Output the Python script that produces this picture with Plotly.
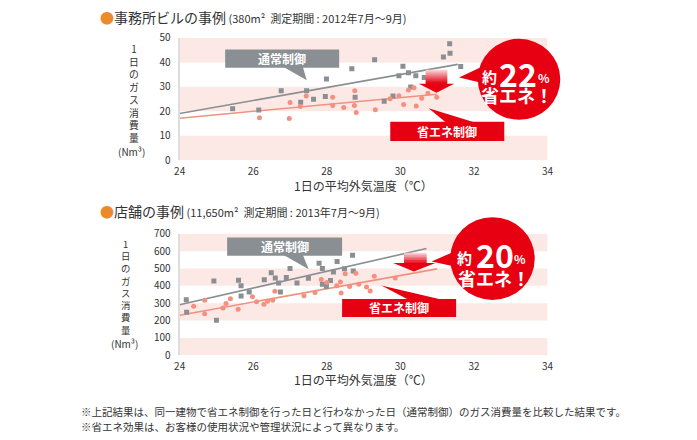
import plotly.graph_objects as go

W, H = 697, 440
FONT = "Noto Sans CJK JP"

# ---------------- data ----------------
x_ticks = [24, 26, 28, 30, 32, 34]
office_y_ticks = [0, 10, 20, 30, 40, 50]
store_y_ticks = [0, 100, 200, 300, 400, 500, 600, 700]

# Office building (通常制御 = normal, 省エネ制御 = eco)
office_normal_x = [25.44, 26.15, 26.76, 27.29, 27.45, 27.64, 27.96, 27.99, 28.68, 28.77,
                   29.30, 29.56, 29.80, 29.96, 30.07, 30.22, 30.28, 30.42, 30.65, 31.17,
                   31.35, 31.34, 31.64]
office_normal_y = [21.1, 20.5, 28.4, 23.7, 28.4, 24.9, 26.1, 33.2, 37.4, 25.8,
                   41.1, 24.1, 26.3, 34.5, 38.4, 35.8, 29.9, 34.5, 33.8, 42.2,
                   43.7, 47.6, 38.3]
office_eco_x = [26.17, 27.00, 26.98, 27.28, 27.44, 28.16, 28.16, 28.46, 28.76, 28.75,
                28.80, 29.32, 29.72, 29.96, 30.09, 30.22, 30.37, 30.43, 30.58, 30.75,
                30.99]
office_eco_y = [17.4, 23.6, 17.1, 22.0, 26.3, 25.8, 22.4, 21.6, 28.4, 22.4,
                19.5, 20.7, 25.1, 26.4, 22.8, 28.7, 29.6, 22.2, 25.3, 27.4,
                25.8]
office_trend_normal_x = [24.0, 31.56]
office_trend_normal_y = [19.1, 39.2]
office_trend_eco_x = [24.0, 30.99]
office_trend_eco_y = [17.2, 27.0]

# Store
store_normal_x = [24.18, 24.19, 24.93, 25.00, 25.60, 25.67, 25.67, 25.89, 26.30, 26.49,
                  26.60, 26.69, 26.74, 26.90, 27.00, 27.10, 27.19, 27.50, 27.79, 27.88,
                  27.88, 27.99, 28.10, 28.18, 28.28, 28.48, 28.70, 28.72]
store_normal_y = [320, 248, 428, 202, 433, 400, 341, 365, 435, 476,
                  446, 417, 365, 448, 500, 574, 417, 444, 530, 500,
                  409, 396, 431, 480, 541, 498, 576, 485]
store_eco_x = [24.38, 24.68, 24.68, 25.18, 25.26, 25.38, 25.59, 25.98, 26.09, 26.29,
               26.39, 26.53, 26.59, 27.38, 27.68, 27.85, 28.00, 28.27, 28.37, 28.39,
               28.50, 28.62, 28.79, 28.87, 29.08, 29.18, 29.29, 29.86]
store_eco_y = [283, 317, 239, 272, 298, 326, 265, 337, 309, 294,
               311, 317, 369, 343, 361, 437, 420, 400, 422, 359,
               470, 396, 472, 409, 394, 370, 456, 446]
store_trend_normal_x = [24.0, 30.71]
store_trend_normal_y = [291, 615]
store_trend_eco_x = [24.0, 31.0]
store_trend_eco_y = [230, 498]

GRAY = "#8a8f93"
SALMON = "#f2917f"
RED = "#e60012"
BAND = "#fce9e5"
TXT = "#333333"


def px(x):
    return x / W


def py(y):
    return 1 - y / H


fig = go.Figure()


def add_panel(xa, ya, nx, ny, ex, ey, tnx, tny, tex, tey):
    fig.add_trace(go.Scatter(x=tnx, y=tny, mode="lines", line=dict(color=GRAY, width=1.6),
                             xaxis=xa, yaxis=ya, hoverinfo="skip", showlegend=False))
    fig.add_trace(go.Scatter(x=tex, y=tey, mode="lines", line=dict(color=SALMON, width=1.6),
                             xaxis=xa, yaxis=ya, hoverinfo="skip", showlegend=False))
    fig.add_trace(go.Scatter(x=nx, y=ny, mode="markers",
                             marker=dict(symbol="square", size=5, color=GRAY),
                             xaxis=xa, yaxis=ya, showlegend=False, name="通常制御"))
    fig.add_trace(go.Scatter(x=ex, y=ey, mode="markers",
                             marker=dict(symbol="circle", size=5, color=SALMON),
                             xaxis=xa, yaxis=ya, showlegend=False, name="省エネ制御"))


add_panel("x", "y", office_normal_x, office_normal_y, office_eco_x, office_eco_y,
          office_trend_normal_x, office_trend_normal_y, office_trend_eco_x, office_trend_eco_y)
add_panel("x2", "y2", store_normal_x, store_normal_y, store_eco_x, store_eco_y,
          store_trend_normal_x, store_trend_normal_y, store_trend_eco_x, store_trend_eco_y)

shapes = []
annotations = []

# background bands
for i in range(0, len(office_y_ticks) - 1, 2):
    shapes.append(dict(type="rect", xref="x", yref="y", x0=x_ticks[0], x1=x_ticks[-1],
                       y0=office_y_ticks[i], y1=office_y_ticks[i + 1],
                       fillcolor=BAND, line=dict(width=0), layer="below"))
for i in range(0, len(store_y_ticks) - 1, 2):
    shapes.append(dict(type="rect", xref="x2", yref="y2", x0=x_ticks[0], x1=x_ticks[-1],
                       y0=store_y_ticks[i], y1=store_y_ticks[i + 1],
                       fillcolor=BAND, line=dict(width=0), layer="below"))


def tri(pts, color):
    path = "M " + " L ".join(f"{px(a):.5f},{py(b):.5f}" for a, b in pts) + " Z"
    shapes.append(dict(type="path", xref="paper", yref="paper", path=path,
                       fillcolor=color, line=dict(width=0)))


def rect(x0, y0, x1, y1, color):
    shapes.append(dict(type="rect", xref="paper", yref="paper", x0=px(x0), x1=px(x1),
                       y0=py(y1), y1=py(y0), fillcolor=color, line=dict(width=0)))


def label(x, y, text, size, color="white", bold=True, xanchor="center", yanchor="middle"):
    t = f"<b>{text}</b>" if bold else text
    annotations.append(dict(xref="paper", yref="paper", x=px(x), y=py(y), text=t,
                            showarrow=False, xanchor=xanchor, yanchor=yanchor,
                            borderpad=0,
                            font=dict(family=FONT, size=size, color=color)))


def grad_arrow(x0, x1, ys, ye, hx0, hx1, tipx, tipy):
    n = 14
    c0 = (248, 212, 214)
    c1 = (230, 0, 18)
    for k in range(n):
        f = k / (n - 1)
        c = tuple(int(c0[j] + (c1[j] - c0[j]) * f) for j in range(3))
        a = ys + (ye - ys) * k / n
        b = ys + (ye - ys) * (k + 1) / n + 0.3
        rect(x0, a, x1, b, "rgb(%d,%d,%d)" % c)
    tri([(hx0, ye), (hx1, ye), (tipx, tipy)], RED)


def callouts(gbox, gptr, rbox, rptr, arrow, circ, cptr, pct, pos):
    tri(gptr, GRAY)
    rect(*gbox, GRAY)
    label((gbox[0] + gbox[2]) / 2, (gbox[1] + gbox[3]) / 2, "通常制御", 12)
    tri(rptr, RED)
    rect(*rbox, RED)
    label((rbox[0] + rbox[2]) / 2, (rbox[1] + rbox[3]) / 2, "省エネ制御", 12)
    grad_arrow(*arrow)
    cx, cy, r = circ
    tri(cptr, RED)
    shapes.append(dict(type="circle", xref="paper", yref="paper",
                       x0=px(cx - r), x1=px(cx + r), y0=py(cy + r), y1=py(cy - r),
                       fillcolor=RED, line=dict(width=0)))
    (yx, yy), (nx_, ny_), (qx, qy), (sx, sy) = pos
    label(yx, yy, "約", 15)
    label(nx_, ny_, pct, 32)
    label(qx, qy, "%", 12)
    label(sx, sy, "省エネ！", 18)


callouts(gbox=(223, 42, 339, 61), gptr=[(282, 60), (302, 60), (306, 74)],
         rbox=(391, 117, 507, 137), rptr=[(430, 103), (448, 118), (478, 118)],
         arrow=(427, 449, 63, 77.5, 420, 456, 438, 87),
         circ=(522, 73, 42), cptr=[(461, 71), (490, 57), (490, 78)], pct="22",
         pos=[(492, 70), (521, 66), (547, 71), (520, 89)])

callouts(gbox=(225, 237, 342, 256), gptr=[(282, 255), (302, 255), (308, 270)],
         rbox=(342, 301, 458, 319.5), rptr=[(382, 287), (410, 302), (445, 302)],
         arrow=(405, 428, 253, 263.5, 394, 437, 415, 272.5),
         circ=(495, 259, 43), cptr=[(433, 262), (460, 250), (460, 268)], pct="20",
         pos=[(467, 258), (498, 254), (523, 259), (497, 279)])

# titles
label(95, 8, "<span style='color:#ea8a2d'>●</span>事務所ビルの事例"
      "<span style='font-size:11px'> (380m²  測定期間 : 2012年7月〜9月)</span>",
      14, color=TXT, bold=False, xanchor="left")
label(95, 210, "<span style='color:#ea8a2d'>●</span>店舗の事例"
      "<span style='font-size:11px'> (11,650m²  測定期間 : 2013年7月〜9月)</span>",
      14, color=TXT, bold=False, xanchor="left")

# y-axis titles (vertical stacked text)
ychars = ["1", "日", "の", "ガ", "ス", "消", "費", "量"]
label(130, 88, "<br>".join(ychars), 9.8, color=TXT, bold=False)
label(128, 147.5, "(Nm³)", 10, color=TXT, bold=False)
label(122, 289, "<br>".join(ychars), 9.4, color=TXT, bold=False)
label(121, 347.5, "(Nm³)", 10, color=TXT, bold=False)

# x-axis titles
label(364, 183, "1日の平均外気温度（℃）", 12, color=TXT, bold=False)
label(364, 384.5, "1日の平均外気温度（℃）", 12, color=TXT, bold=False)

# footnotes
label(75, 418, "※上記結果は、同一建物で省エネ制御を行った日と行わなかった日（通常制御）のガス消費量を比較した結果です。",
      10.5, color=TXT, bold=False, xanchor="left")
label(75, 433, "※省エネ効果は、お客様の使用状況や管理状況によって異なります。",
      10.5, color=TXT, bold=False, xanchor="left")

axis_common = dict(showgrid=False, zeroline=False, ticks="",
                   tickfont=dict(family=FONT, size=10, color=TXT))

fig.update_layout(
    width=W, height=H,
    margin=dict(l=0, r=0, t=0, b=0),
    paper_bgcolor="white", plot_bgcolor="white",
    showlegend=False,
    xaxis=dict(domain=[px(176.7), px(551)], range=[24, 34], tickvals=x_ticks,
               anchor="y", showline=False, ticklabelstandoff=4, **axis_common),
    yaxis=dict(domain=[py(157), py(30)], range=[0, 50], tickvals=office_y_ticks,
               anchor="x", showline=True, linecolor="#dddddd", linewidth=2,
               ticklabelstandoff=5, **axis_common),
    xaxis2=dict(domain=[px(176.7), px(551)], range=[24, 34], tickvals=x_ticks,
                anchor="y2", showline=False, ticklabelstandoff=4, **axis_common),
    yaxis2=dict(domain=[py(359.3), py(233.3)], range=[0, 700], tickvals=store_y_ticks,
                anchor="x2", showline=True, linecolor="#dddddd", linewidth=2,
                ticklabelstandoff=5, **axis_common),
    shapes=shapes,
    annotations=annotations,
)

fig.write_html("out.html", config={"displayModeBar": False},
               post_script="document.body.style.margin='0';document.body.style.overflow='hidden';")
